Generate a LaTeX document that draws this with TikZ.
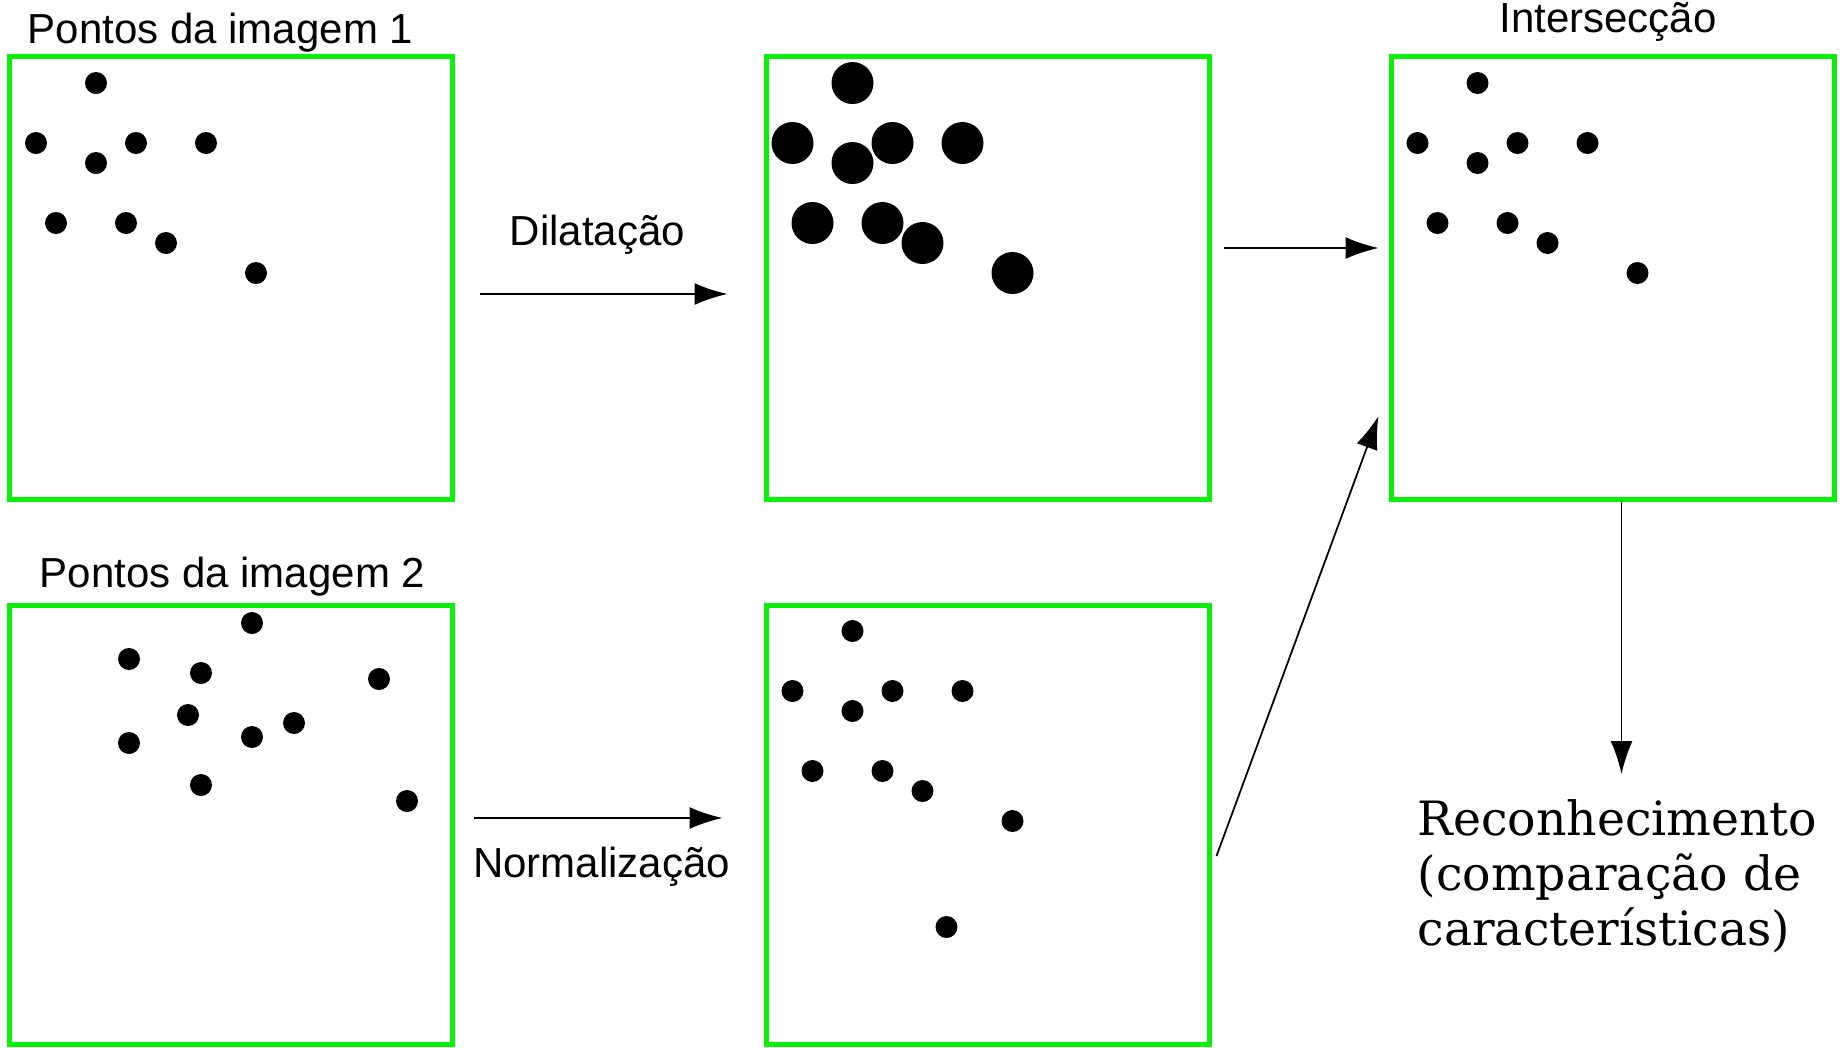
\documentclass[tikz,border=0pt]{standalone}
\usepackage{fontspec}
\usepackage{tikz}
\usetikzlibrary{arrows.meta}

\newfontfamily\sansfont{Liberation Sans}
\newfontfamily\recfont{DejaVu Serif}
\definecolor{pointgreen}{RGB}{10,240,10}

% dot positions inside a box (from its north west corner)
\newcommand{\ptsA}{0.89/0.29, 0.29/0.89, 1.29/0.89, 1.99/0.89, 0.89/1.09, 0.49/1.69, 1.19/1.69, 1.59/1.89, 2.49/2.19}
\newcommand{\ptsB}{2.45/0.20, 1.22/0.56, 1.94/0.70, 3.72/0.76, 1.81/1.12, 2.87/1.20, 2.45/1.34, 1.22/1.40, 1.94/1.82, 4.00/1.98}

\tikzset{
	imgbox/.style={draw=pointgreen, line width=0.05cm, fill=white, inner sep=0,
		minimum width=4.43cm, minimum height=4.43cm},
	lowbox/.style={imgbox, minimum height=4.39cm},
	flow/.style={-{Latex[length=0.33cm,width=0.22cm]}, line width=0.5pt},
	caption/.style={font=\sansfont\fontsize{11.95pt}{14pt}\selectfont, anchor=base, inner sep=0},
}

\begin{document}
\begin{tikzpicture}[x=1cm, y=-1cm]
		\useasboundingbox (0,0) rectangle (18.46,10.47);
		
		% Boxes
		\node[imgbox] (img1) at (2.31, 2.78) {};
		\node[imgbox] (dil) at (9.875, 2.78) {};
		\node[imgbox] (inter) at (16.125, 2.78) {};
		\node[lowbox] (img2) at (2.31, 8.25) {};
		\node[lowbox] (norm) at (9.875, 8.25) {};
		
		% Points
		\begin{scope}[shift={(img1.north west)}]
			\foreach \x/\y in \ptsA
				\fill (\x,\y) circle (0.11);
		\end{scope}
		\begin{scope}[shift={(dil.north west)}]
			\foreach \x/\y in \ptsA
				\fill (\x,\y) circle (0.21);
		\end{scope}
		\begin{scope}[shift={(inter.north west)}]
			\foreach \x/\y in \ptsA
				\fill (\x,\y) circle (0.11);
		\end{scope}
		\begin{scope}[shift={(img2.north west)}]
			\foreach \x/\y in \ptsB
				\fill (\x,\y) circle (0.11);
		\end{scope}
		\begin{scope}[shift={(norm.north west)}]
			\foreach \x/\y in \ptsA
				\fill (\x,\y-0.01) circle (0.11);
			\fill (1.83,3.24) circle (0.11);
		\end{scope}
		
		% Labels
		\node[caption] (t_img1) at (2.205, 0.43) {Pontos da imagem 1};
		\node[caption] (t_img2) at (2.325, 5.87) {Pontos da imagem 2};
		\node[caption] (t_inter) at (16.08, 0.32) {Intersecção};
		\node[caption] (t_dil) at (5.975, 2.45) {Dilatação};
		\node[caption] (t_norm) at (6.015, 8.77) {Normalização};
		\node[anchor=north west, inner sep=0, align=left,
			font=\recfont\fontsize{13.45pt}{15.65pt}\selectfont] (rec) at (14.17, 7.99)
			{Reconhecimento\\(comparação de\\características)};
		
		% Arrows
		\draw[flow] ([xshift=0.25cm, yshift=-0.16cm]img1.east) -- ([xshift=-0.36cm, yshift=-0.16cm]dil.west);
		\draw[flow] ([xshift=0.19cm, yshift=0.07cm]img2.east) -- ([xshift=-0.41cm, yshift=0.07cm]norm.west);
		\draw[flow] ([xshift=0.12cm, yshift=0.30cm]dil.east) -- ([xshift=-0.10cm, yshift=0.30cm]inter.west);
		\draw[flow] ([xshift=0.05cm, yshift=-0.31cm]norm.east) -- ([xshift=-0.10cm, yshift=-1.38cm]inter.west);
		\draw[flow] ([xshift=0.04cm]inter.south -| rec.north) -- ([xshift=0.04cm, yshift=0.25cm]rec.north);
\end{tikzpicture}
\end{document}
